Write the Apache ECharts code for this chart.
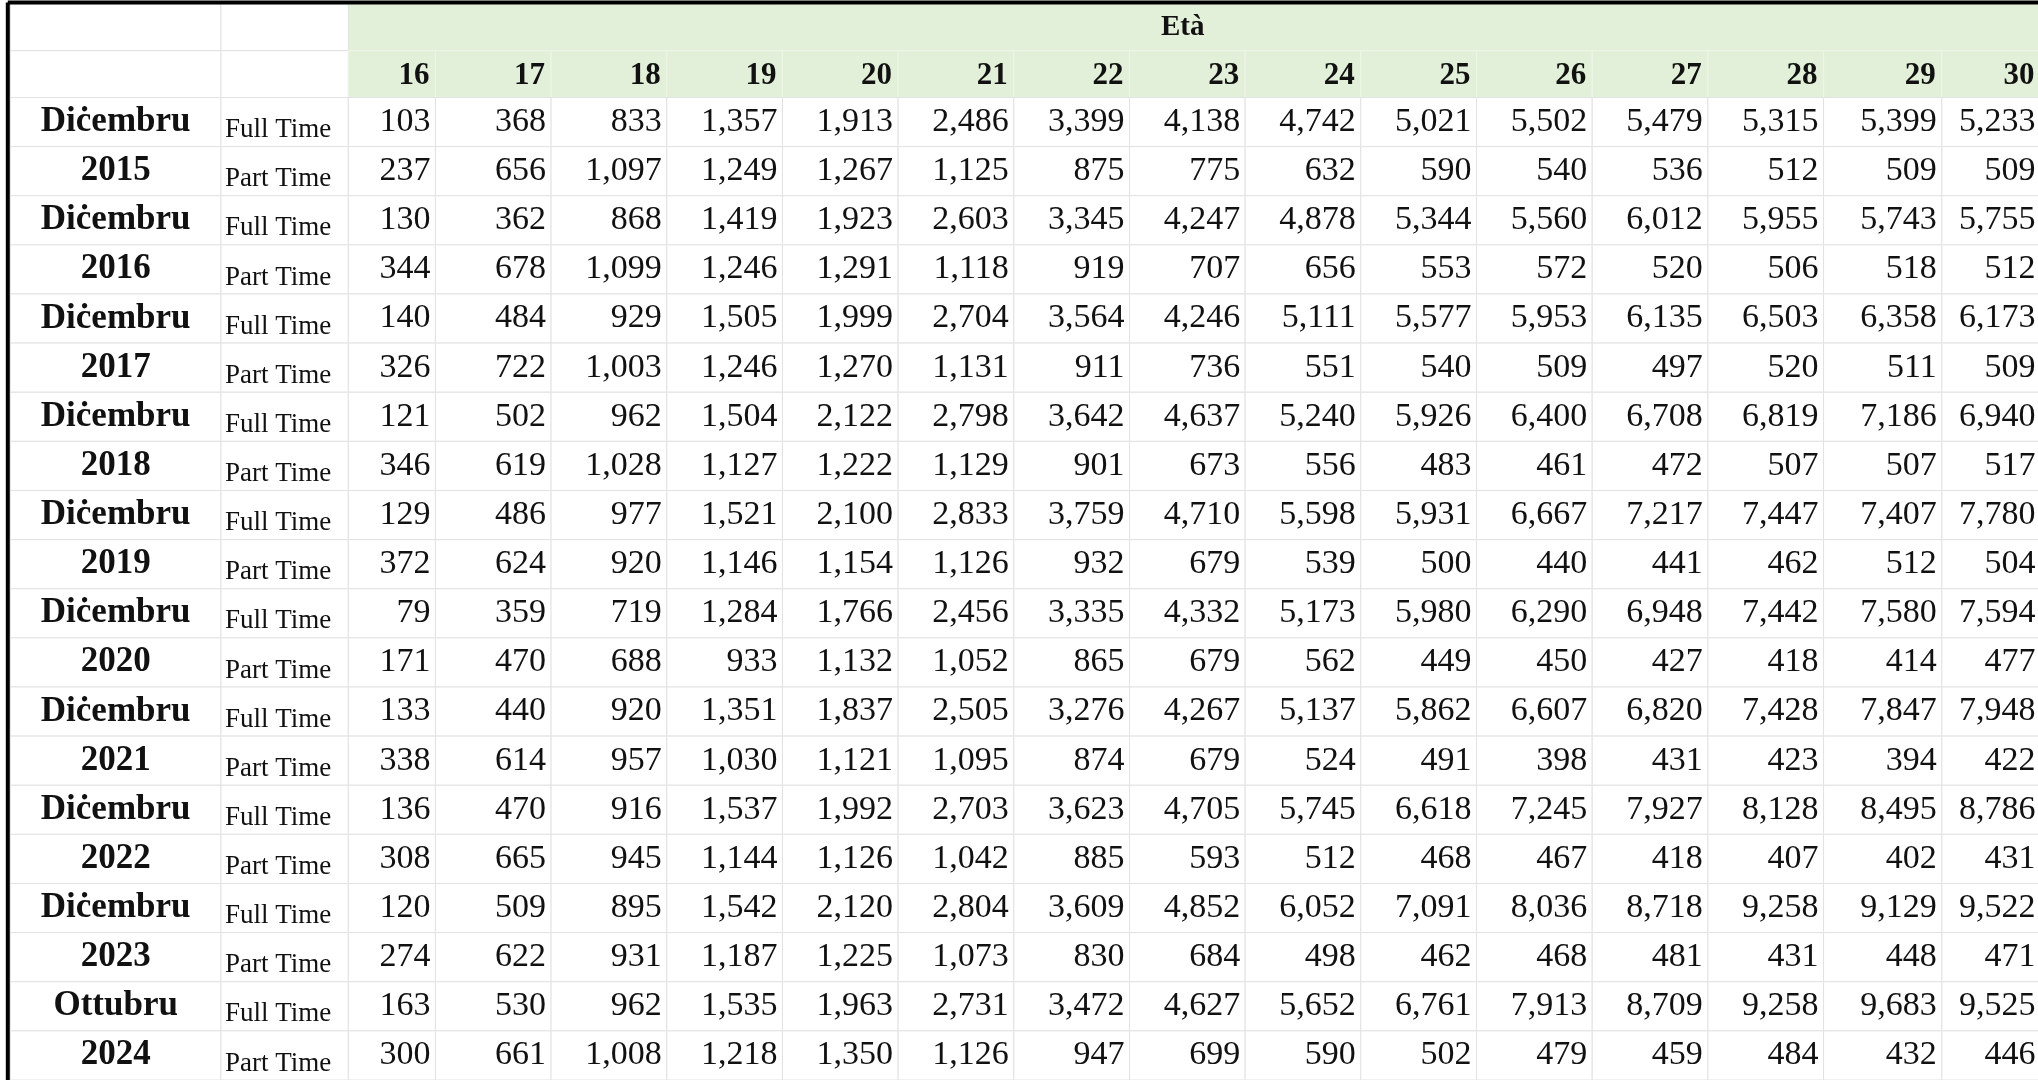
<!DOCTYPE html>
<html><head><meta charset="utf-8">
<script src="https://cdn.jsdelivr.net/npm/echarts@6/dist/echarts.min.js"></script>
<style>html,body{margin:0;padding:0;background:#fff}#c{width:2038px;height:1080px}</style>
</head><body><div id="c"></div>
<script>
const headerTitle = 'Età';
const ages = [16,17,18,19,20,21,22,23,24,25,26,27,28,29,30];
const months = ['Diċembru','Diċembru','Diċembru','Diċembru','Diċembru','Diċembru','Diċembru','Diċembru','Diċembru','Ottubru'];
const years = ['2015','2016','2017','2018','2019','2020','2021','2022','2023','2024'];
const types = ['Full Time','Part Time'];
const fullTime = [
 [103,368,833,1357,1913,2486,3399,4138,4742,5021,5502,5479,5315,5399,5233],
 [130,362,868,1419,1923,2603,3345,4247,4878,5344,5560,6012,5955,5743,5755],
 [140,484,929,1505,1999,2704,3564,4246,5111,5577,5953,6135,6503,6358,6173],
 [121,502,962,1504,2122,2798,3642,4637,5240,5926,6400,6708,6819,7186,6940],
 [129,486,977,1521,2100,2833,3759,4710,5598,5931,6667,7217,7447,7407,7780],
 [79,359,719,1284,1766,2456,3335,4332,5173,5980,6290,6948,7442,7580,7594],
 [133,440,920,1351,1837,2505,3276,4267,5137,5862,6607,6820,7428,7847,7948],
 [136,470,916,1537,1992,2703,3623,4705,5745,6618,7245,7927,8128,8495,8786],
 [120,509,895,1542,2120,2804,3609,4852,6052,7091,8036,8718,9258,9129,9522],
 [163,530,962,1535,1963,2731,3472,4627,5652,6761,7913,8709,9258,9683,9525]
];
const partTime = [
 [237,656,1097,1249,1267,1125,875,775,632,590,540,536,512,509,509],
 [344,678,1099,1246,1291,1118,919,707,656,553,572,520,506,518,512],
 [326,722,1003,1246,1270,1131,911,736,551,540,509,497,520,511,509],
 [346,619,1028,1127,1222,1129,901,673,556,483,461,472,507,507,517],
 [372,624,920,1146,1154,1126,932,679,539,500,440,441,462,512,504],
 [171,470,688,933,1132,1052,865,679,562,449,450,427,418,414,477],
 [338,614,957,1030,1121,1095,874,679,524,491,398,431,423,394,422],
 [308,665,945,1144,1126,1042,885,593,512,468,467,418,407,402,431],
 [274,622,931,1187,1225,1073,830,684,498,462,468,481,431,448,471],
 [300,661,1008,1218,1350,1126,947,699,590,502,479,459,484,432,446]
];

// layout (reference units 1568 x 831)
const colEdges = [8,170,268,335,424,513,602,691,780,869,958,1047,1136,1225,1314,1403,1494,1570];
const rowTop = 3, hdrH = 36, hdr2 = 75, rowH = 37.8;
function rowEdges(r){ if(r===0) return [rowTop,rowTop+hdrH]; if(r===1) return [rowTop+hdrH,hdr2]; return [hdr2+(r-2)*rowH, hdr2+(r-1)*rowH]; }

const cells = [];
cells.push([2,0,headerTitle,'title']);
cells.push([0,0,'','blank']); cells.push([1,0,'','blank']);
cells.push([0,1,'','blank']); cells.push([1,1,'','blank']);
ages.forEach((a,i)=>cells.push([i+2,1,String(a),'age']));
years.forEach((y,p)=>{
  const r1 = 2+2*p, r2 = 3+2*p;
  cells.push([0,r1,months[p],'lab']); cells.push([0,r2,y,'lab']);
  cells.push([1,r1,types[0],'type']); cells.push([1,r2,types[1],'type']);
  fullTime[p].forEach((v,i)=>cells.push([i+2,r1,v.toLocaleString('en-US'),'num']));
  partTime[p].forEach((v,i)=>cells.push([i+2,r2,v.toLocaleString('en-US'),'num']));
});

const chart = echarts.init(document.getElementById('c'));
const S = 2038/1568;
chart.setOption({
  animation:false,
  grid:{left:0,right:0,top:0,bottom:0},
  xAxis:{type:'value',min:0,max:1568,show:false},
  yAxis:{type:'value',min:0,max:831,inverse:true,show:false},
  series:[{
    type:'custom',
    data:cells,
    renderItem:function(params,api){
      const d = cells[params.dataIndex];
      const col=d[0], row=d[1], txt=d[2], kind=d[3];
      let x0=colEdges[col], x1=colEdges[col+1];
      if(kind==='title') x1=colEdges[colEdges.length-1];
      const [y0,y1]=rowEdges(row);
      const p0=api.coord([x0,y0]), p1=api.coord([x1,y1]);
      const w=p1[0]-p0[0], h=p1[1]-p0[1];
      const green = (kind==='title'||kind==='age');
      const children=[{type:'rect',shape:{x:p0[0],y:p0[1],width:w,height:h},
        style:{fill:green?'#e3f0d9':'#ffffff',stroke:green?'#eef5e8':'#e2e2e2',lineWidth:1}}];
      let st={text:txt,fill:'#111',fontFamily:'Liberation Serif'};
      if(kind==='title'){ Object.assign(st,{x:api.coord([910,0])[0],y:p0[1]+h/2,align:'center',verticalAlign:'middle',fontSize:29,fontWeight:'bold'}); }
      else if(kind==='age'){ Object.assign(st,{x:p1[0]-6,y:p0[1]+h/2+2,align:'right',verticalAlign:'middle',fontSize:31,fontWeight:'bold'}); }
      else if(kind==='lab'){ Object.assign(st,{x:p0[0]+w/2,y:p0[1]+h/2,align:'center',verticalAlign:'middle',fontSize:35,fontWeight:'bold'}); }
      else if(kind==='type'){ Object.assign(st,{x:p0[0]+4,y:p0[1]+h/2+8,align:'left',verticalAlign:'middle',fontSize:27}); }
      else if(kind==='num'){ Object.assign(st,{x:p1[0]-5,y:p0[1]+h/2,align:'right',verticalAlign:'middle',fontSize:34}); }
      if(txt) children.push({type:'text',style:st,z2:10});
      return {type:'group',children:children};
    }
  }],
  graphic:[
    {type:'line',shape:{x1:6*S,y1:2*S,x2:6*S,y2:831*S},style:{stroke:'#000',lineWidth:4},z:100},
    {type:'line',shape:{x1:6*S,y1:2*S,x2:2038,y2:2*S},style:{stroke:'#000',lineWidth:4},z:100}
  ]
});
</script></body></html>
